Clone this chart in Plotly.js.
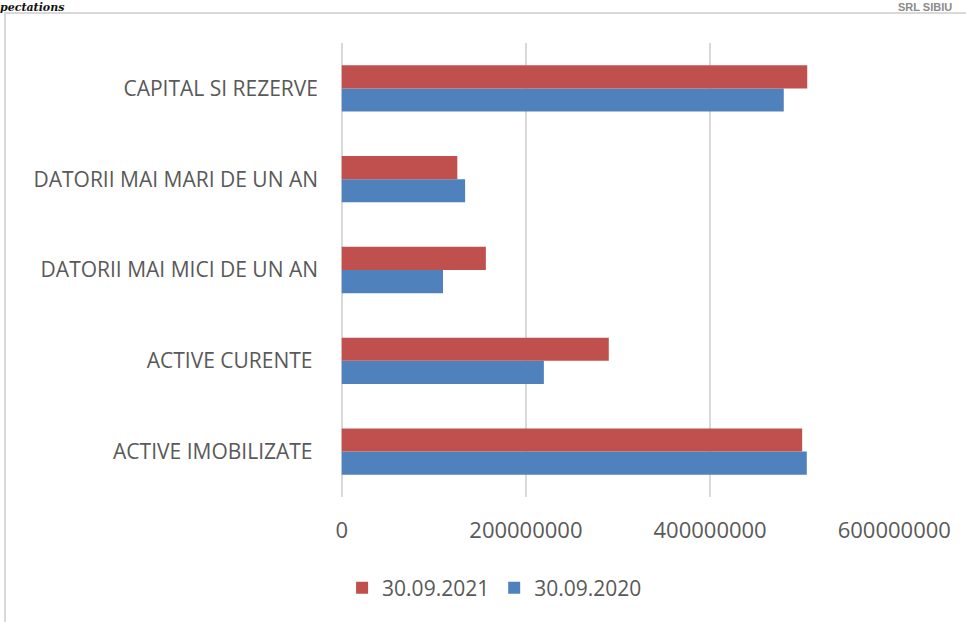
<!DOCTYPE html>
<html>
<head>
<meta charset="utf-8">
<script src="https://cdn.plot.ly/plotly-3.0.1.min.js"></script>
<style>
  html, body { margin: 0; padding: 0; background: #ffffff; }
  #wrap { position: relative; width: 966px; height: 622px; overflow: hidden; }
  #frame { position: absolute; left: 4px; top: 12px; width: 970px; height: 620px;
           border-left: 2px solid #d9d9d9; border-top: 2px solid #d9d9d9; box-sizing: border-box; }
  #chart { position: absolute; left: 0; top: 0; width: 966px; height: 622px; }
</style>
</head>
<body>
<div id="wrap">
  <div id="frame"></div>
  <div id="chart"></div>
</div>
<script>
// Categories listed bottom-to-top
const categories = [
  "ACTIVE IMOBILIZATE ",
  "ACTIVE CURENTE ",
  "DATORII MAI MICI DE UN AN",
  "DATORII MAI MARI DE UN AN",
  "CAPITAL SI REZERVE"
];
const values2021 = [500000000, 290000000, 156500000, 125500000, 505500000];
const values2020 = [505000000, 219500000, 110000000, 134000000, 480000000];
const seriesNames = ["30.09.2021", "30.09.2020"];
const xTicks = [0, 200000000, 400000000, 600000000];

const gray = "#595959";
const fontFam = "'Open Sans', 'Noto Sans', sans-serif";

const traces = [
  {
    type: "bar", orientation: "h",
    name: seriesNames[1],
    y: categories, x: values2020,
    marker: { color: "#4F81BD" },
    hoverinfo: "x+name"
  },
  {
    type: "bar", orientation: "h",
    name: seriesNames[0],
    y: categories, x: values2021,
    marker: { color: "#C0504D" },
    hoverinfo: "x+name"
  }
];

const layout = {
  width: 966, height: 622,
  margin: { l: 341, r: 71, t: 43, b: 125, autoexpand: false },
  paper_bgcolor: "rgba(0,0,0,0)",
  plot_bgcolor: "rgba(0,0,0,0)",
  barmode: "group",
  bargap: 0.49,
  bargroupgap: 0,
  font: { family: fontFam, size: 17, color: gray },
  xaxis: {
    range: [-800000, 600800000],
    tickvals: xTicks,
    ticktext: xTicks.map(String),
    showgrid: true, gridcolor: "#d9d9d9", gridwidth: 2,
    zeroline: true, zerolinecolor: "#d9d9d9", zerolinewidth: 2,
    showline: false, ticks: "",
    ticklabelstandoff: 18,
    tickfont: { family: fontFam, size: 22, color: gray },
    fixedrange: true
  },
  yaxis: {
    showgrid: false, zeroline: false, showline: false, ticks: "",
    ticklabelstandoff: 22,
    tickfont: { family: fontFam, size: 21, color: gray },
    fixedrange: true
  },
  showlegend: true,
  legend: {
    orientation: "h", traceorder: "reversed",
    xref: "container", yref: "container",
    x: 0.512, xanchor: "center", y: 0.0547, yanchor: "middle",
    font: { family: fontFam, size: 21, color: gray },
    itemwidth: 30
  },
  annotations: [
    { xref: "paper", yref: "paper", x: -0.618, y: 1.0947, xanchor: "left", yanchor: "top",
      text: "<b><i>pectations</i></b>", showarrow: false, borderpad: 0,
      font: { family: "'DejaVu Serif', serif", size: 11, color: "#111111" } },
    { xref: "paper", yref: "paper", x: 1.105, y: 1.0947, xanchor: "right", yanchor: "top",
      text: "<b>SRL SIBIU</b>", showarrow: false, borderpad: 0,
      font: { family: "'Liberation Sans', Arial, sans-serif", size: 11, color: "#8a8a8a" } }
  ]
};

Plotly.newPlot("chart", traces, layout, { displayModeBar: false, staticPlot: false });
</script>
</body>
</html>
